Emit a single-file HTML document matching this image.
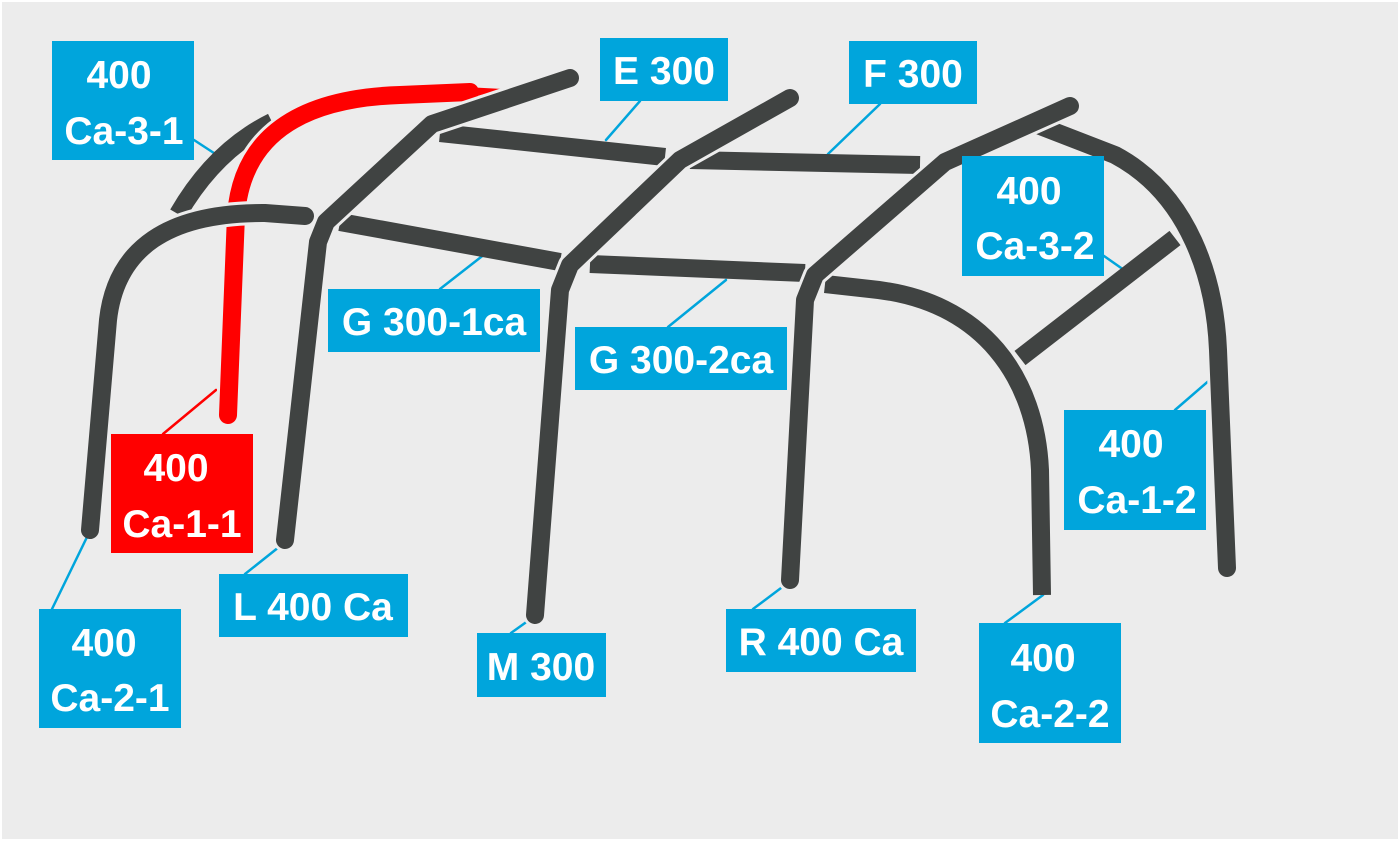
<!DOCTYPE html>
<html><head><meta charset="utf-8"><style>
html,body{margin:0;padding:0;width:1400px;height:841px;overflow:hidden;background:#fff}
svg{display:block}
text{font-family:"Liberation Sans",sans-serif;font-weight:bold;fill:#fff;font-size:39px;text-anchor:middle}
</style></head><body>
<svg width="1400" height="841" viewBox="0 0 1400 841" xmlns="http://www.w3.org/2000/svg">
<rect x="2" y="2" width="1396" height="837" fill="#ececec"/>
<g fill="none" stroke-linecap="round" stroke-linejoin="round">
<g stroke="#00a5dc" stroke-width="2.5">
<line x1="194" y1="140" x2="220" y2="157"/>
<line x1="640" y1="101" x2="606" y2="140"/>
<line x1="880" y1="104" x2="828" y2="154"/>
<line x1="1104" y1="256" x2="1124" y2="270"/>
<line x1="440" y1="289" x2="490" y2="250"/>
<line x1="668" y1="327" x2="726" y2="280"/>
<line x1="1175" y1="410" x2="1212" y2="378"/>
<line x1="52" y1="609" x2="88" y2="535"/>
<line x1="245" y1="574" x2="284" y2="543"/>
<line x1="511" y1="633" x2="532" y2="618"/>
<line x1="753" y1="609" x2="789" y2="582"/>
<line x1="1005" y1="623" x2="1043" y2="595"/>
</g>
<line x1="163" y1="434" x2="216" y2="390" stroke="#f00" stroke-width="2.5"/>
<g stroke-width="18" stroke-linecap="butt">
<path d="M178,214 Q215,150 272,122" stroke="#404342"/>
<path d="M228,415 L236,215 Q245,100 400,95 L470,92" stroke="#ececec" stroke-width="24"/>
<path d="M228,415 L236,215 Q245,100 400,95 L470,92" stroke="#f00" stroke-linecap="round"/>
<path d="M465,87 L503,89 L470,98 Z" fill="#f00" stroke="none"/>
<path d="M440,133 L665,157" stroke="#404342"/>
<path d="M690,160 L920,165" stroke="#404342"/>
<path d="M90,530 L108,320 Q120,212 265,213 L305,216" stroke="#ececec" stroke-width="24"/>
<path d="M90,530 L108,320 Q120,212 265,213 L305,216" stroke="#404342" stroke-linecap="round"/>
<path d="M340,222 L560,262" stroke="#404342"/>
<path d="M590,264 L805,273" stroke="#404342"/>
<path d="M285,540 L318,242 L326,222 L432,124 L570,78" stroke="#ececec" stroke-width="24" stroke-linecap="round"/>
<path d="M285,540 L318,242 L326,222 L432,124 L570,78" stroke="#404342" stroke-linecap="round"/>
<path d="M535,615 L560,290 L570,265 L680,160 L790,98" stroke="#ececec" stroke-width="24" stroke-linecap="round"/>
<path d="M535,615 L560,290 L570,265 L680,160 L790,98" stroke="#404342" stroke-linecap="round"/>
<path d="M1040,126 L1115,155 C1190,195 1215,280 1218,350 L1227,568" stroke="#ececec" stroke-width="24"/>
<path d="M1040,126 L1115,155 C1190,195 1215,280 1218,350 L1227,568" stroke="#404342" stroke-linecap="round"/>
<path d="M1175,238 L1020,358" stroke="#404342"/>
<path d="M825,284 L870,289 C985,300 1036,380 1040,470 L1042,595" stroke="#ececec" stroke-width="24"/>
<path d="M825,284 L870,289 C985,300 1036,380 1040,470 L1042,595" stroke="#404342"/>
<path d="M790,580 L805,300 L815,275 L945,162 L1070,106" stroke="#ececec" stroke-width="24" stroke-linecap="round"/>
<path d="M790,580 L805,300 L815,275 L945,162 L1070,106" stroke="#404342" stroke-linecap="round"/>
</g>
</g>
<g fill="#00a5dc">
<rect x="52" y="41" width="142" height="119"/>
<rect x="600" y="38" width="128" height="63"/>
<rect x="849" y="41" width="128" height="63"/>
<rect x="962" y="156" width="142" height="120"/>
<rect x="328" y="289" width="212" height="63"/>
<rect x="575" y="327" width="212" height="63"/>
<rect x="1064" y="410" width="142" height="120"/>
<rect x="39" y="609" width="142" height="119"/>
<rect x="219" y="574" width="189" height="63"/>
<rect x="477" y="633" width="129" height="64"/>
<rect x="726" y="609" width="190" height="63"/>
<rect x="979" y="623" width="142" height="120"/>
</g>
<rect x="111" y="434" width="142" height="119" fill="#f00"/>
<text x="119" y="88">400</text><text x="124" y="144">Ca-3-1</text>
<text x="664" y="84">E 300</text>
<text x="913" y="87">F 300</text>
<text x="1029" y="204">400</text><text x="1035" y="259">Ca-3-2</text>
<text x="434" y="335">G 300-1ca</text>
<text x="681" y="373">G 300-2ca</text>
<text x="1131" y="457">400</text><text x="1137" y="513">Ca-1-2</text>
<text x="176" y="481">400</text><text x="182" y="537">Ca-1-1</text>
<text x="104" y="656">400</text><text x="110" y="711">Ca-2-1</text>
<text x="313" y="620">L 400 Ca</text>
<text x="541" y="680">M 300</text>
<text x="821" y="655">R 400 Ca</text>
<text x="1043" y="671">400</text><text x="1050" y="727">Ca-2-2</text>
</svg>
</body></html>
